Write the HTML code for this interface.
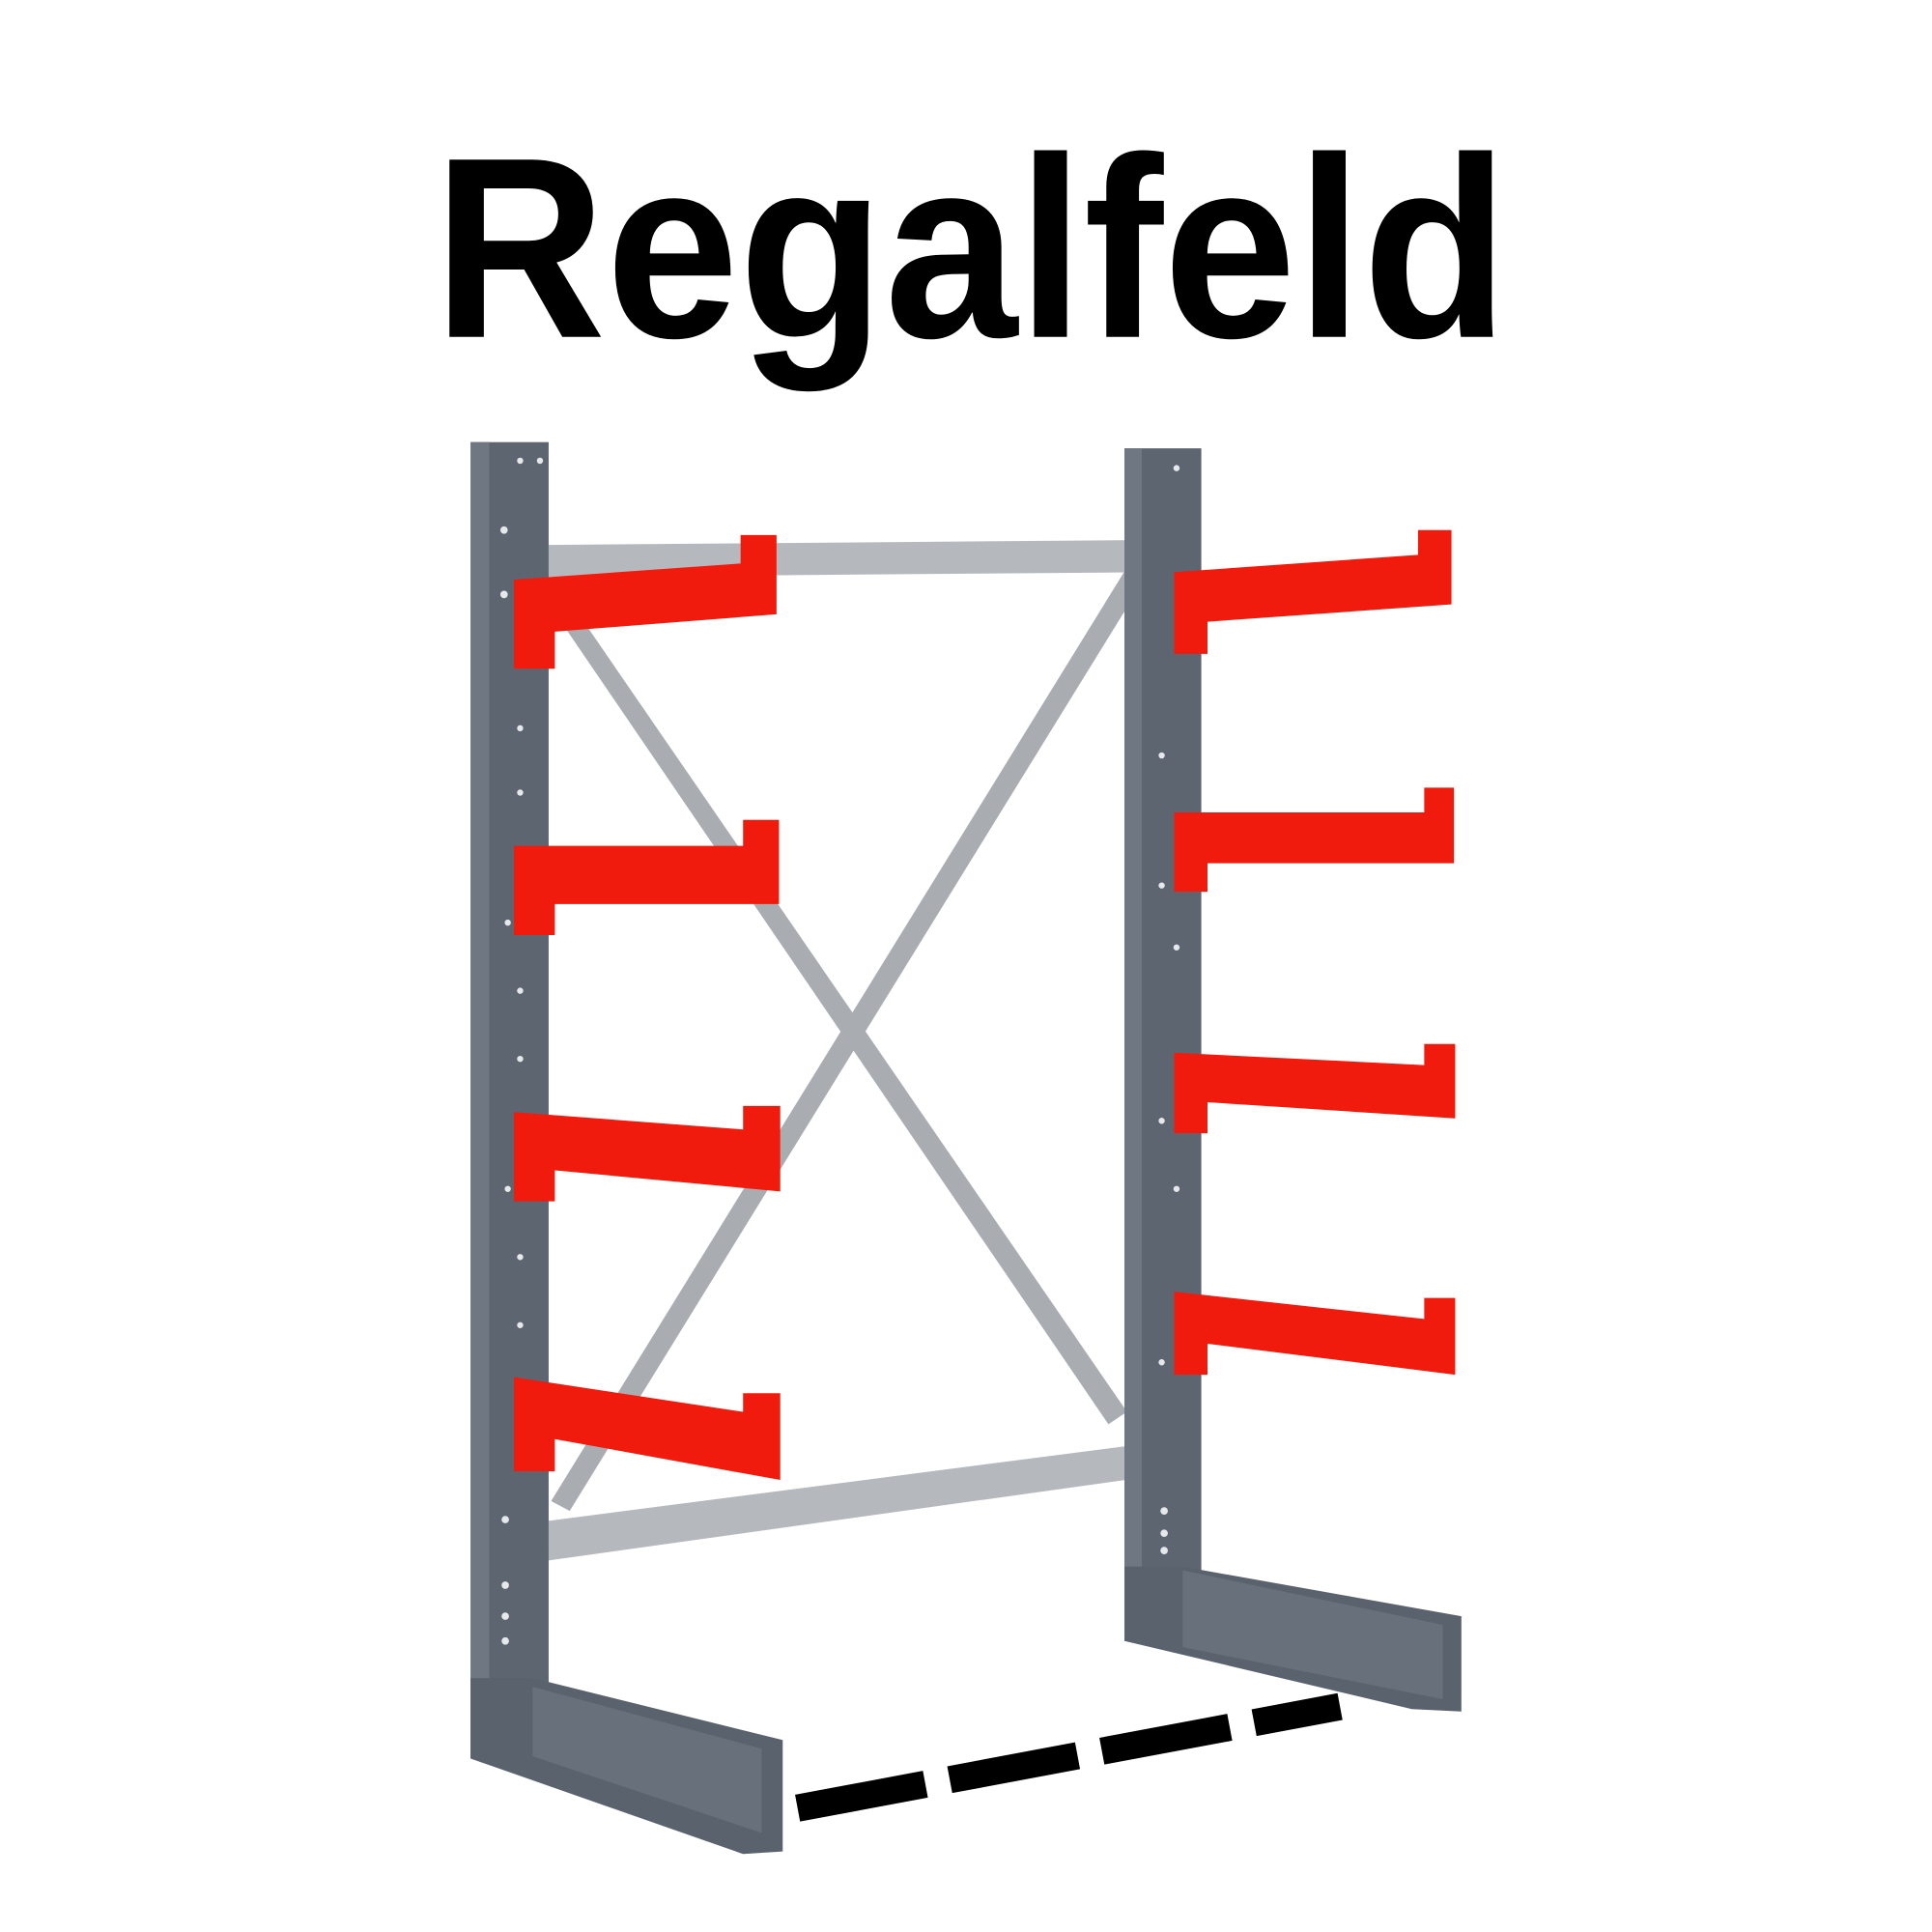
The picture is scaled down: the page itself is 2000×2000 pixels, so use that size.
<!DOCTYPE html>
<html><head><style>html,body{margin:0;padding:0;background:#fff}svg{display:block}</style></head>
<body>
<svg width="2000" height="2000" viewBox="0 0 1560 1560" xmlns="http://www.w3.org/2000/svg">
<rect width="1560" height="1560" fill="#fff"/>
<text x="350" y="272" font-family="Liberation Sans, sans-serif" font-weight="bold" font-size="208" textLength="868" lengthAdjust="spacingAndGlyphs" fill="#000">Regalfeld</text>
<!-- beams -->
<polygon points="443,440 930,436 930,462 443,466" fill="#b5b9bd"/>
<polygon points="443,1228 930,1165 930,1192 443,1260" fill="#b5b9bd"/>
<!-- diagonals -->
<polygon points="455,505 470,500 910,1140 895,1150" fill="#a9adb2"/>
<polygon points="915,450 930,458 460,1220 445,1212" fill="#a9adb2"/>
<!-- right upright -->
<rect x="908" y="362" width="62" height="963" fill="#5d6670"/>
<rect x="908" y="362" width="14" height="963" fill="#6e7782"/>
<polygon points="908,1265 955,1265 1180,1305 1180,1382 1140,1380 908,1325" fill="#5a636d"/>
<polygon points="955,1268 1165,1312 1165,1372 955,1330" fill="#67707b"/>
<!-- left upright -->
<rect x="380" y="357" width="63" height="1063" fill="#5d6670"/>
<rect x="380" y="357" width="15" height="1063" fill="#6e7782"/>
<polygon points="380,1355 430,1355 632,1405 632,1495 600,1497 380,1420" fill="#5a636d"/>
<polygon points="430,1362 615,1412 615,1480 430,1418" fill="#67707b"/>
<!-- holes -->
<g fill="#e6e8ea">
<circle cx="420" cy="372" r="2.5"/><circle cx="436" cy="372" r="2.5"/><circle cx="407" cy="428" r="3"/><circle cx="407" cy="480" r="3"/>
<circle cx="420" cy="588" r="2.5"/><circle cx="420" cy="640" r="2.5"/><circle cx="410" cy="745" r="2.5"/><circle cx="420" cy="800" r="2.5"/>
<circle cx="420" cy="855" r="2.5"/><circle cx="410" cy="960" r="2.5"/><circle cx="420" cy="1015" r="2.5"/><circle cx="420" cy="1070" r="2.5"/>
<circle cx="408" cy="1227" r="3"/><circle cx="408" cy="1280" r="3"/><circle cx="408" cy="1305" r="3"/><circle cx="408" cy="1325" r="3"/>
<circle cx="950" cy="378" r="2.5"/><circle cx="938" cy="610" r="2.5"/><circle cx="938" cy="715" r="2.5"/><circle cx="950" cy="765" r="2.5"/>
<circle cx="938" cy="905" r="2.5"/><circle cx="950" cy="960" r="2.5"/><circle cx="938" cy="1100" r="2.5"/>
<circle cx="940" cy="1220" r="3"/><circle cx="940" cy="1238" r="3"/><circle cx="940" cy="1252" r="3"/>
</g>
<!-- left arms -->
<g fill="#f01b0c">
<polygon points="415,468 598,455 598,432 627,432 627,496 448,510 448,540 415,540"/>
<polygon points="415,683 600,683 600,662 629,662 629,730 448,730 448,755 415,755"/>
<polygon points="415,898 600,912 600,893 630,893 630,962 448,945 448,970 415,970"/>
<polygon points="415,1112 600,1140 600,1125 630,1125 630,1195 448,1162 448,1188 415,1188"/>
<!-- right arms -->
<polygon points="948,462 1145,448 1145,428 1172,428 1172,488 975,502 975,528 948,528"/>
<polygon points="948,656 1150,656 1150,636 1174,636 1174,697 975,697 975,720 948,720"/>
<polygon points="948,850 1150,860 1150,843 1175,843 1175,903 975,890 975,915 948,915"/>
<polygon points="948,1043 1150,1065 1150,1048 1175,1048 1175,1110 975,1085 975,1110 948,1110"/>
</g>
<!-- dashed line -->
<line x1="644" y1="1460" x2="1082" y2="1378" stroke="#000" stroke-width="22" stroke-dasharray="105,20"/>
</svg>
</body></html>
